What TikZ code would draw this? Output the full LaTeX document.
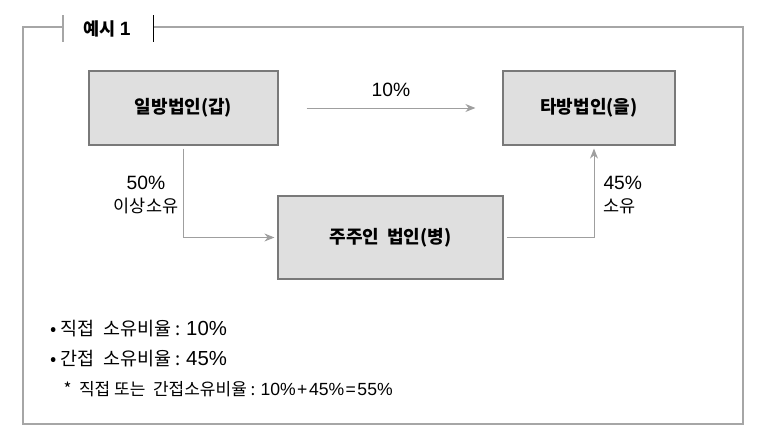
\documentclass[tikz,border=0pt]{standalone}
\usepackage{fontspec}
\setmainfont{Noto Sans CJK KR}
\newfontfamily\numfont[Scale=1.1]{Liberation Sans}
\usetikzlibrary{positioning}
\usetikzlibrary{arrows.meta}

\begin{document}
\begin{tikzpicture}[x=1pt, y=-1pt,
    corp/.style={shape=rectangle, draw=gray!95!black, fill=gray!25, line width=1.2pt, font=\fontsize{18}{20}\selectfont\bfseries},
    link/.style={draw=gray!75, line width=1pt, -{Stealth[length=10pt,width=8pt]}},
    pct/.style={font=\fontsize{17.5}{23}\selectfont},
    note/.style={anchor=west, font=\fontsize{18.5}{20}\selectfont}]
      \useasboundingbox (0,0) rectangle (769,447);
      % frame with tab
      \draw[gray!70, line width=2.2pt] (63,27) -- (23,27) -- (23,424) -- (743,424) -- (743,27) -- (153,27);
      \draw[gray!70, line width=1.2pt] (63,15) -- (63,42);
      \draw[black, line width=1pt] (153,15) -- (153,42);
      \node[font=\fontsize{17.5}{20}\selectfont\bfseries] (title) at (107,29) {예시 {\numfont 1}};

      \node[corp, minimum width=189pt, minimum height=74pt] (gap) at (183.5,108) {일방법인(갑)};
      \node[corp, minimum width=172pt, minimum height=74pt] (eul) at (589,108) {타방법인(을)};
      \node[corp, minimum width=225pt, minimum height=83pt] (byeong) at (390.5,237.5) {주주인\ \ 법인(병)};

      \draw[link, shorten <=28pt, shorten >=27pt] (gap.east) -- (eul.west);
      \draw[link, shorten <=3pt, shorten >=3pt] (gap.south) |- (byeong.west);
      \draw[link, shorten <=3pt, shorten >=3pt] (byeong.east) -| ([xshift=5pt]eul.south);

      \node[pct] (direct) at (391,90) {\numfont 10\%};
      \node[pct, align=center] (over) at (146,195) {{\numfont 50\%}\\이상소유};
      \node[pct, anchor=west, align=left] (own) at (600,195) {{\numfont 45\%}\\소유};

      % ratios
      \node[note] (line1) at (47,329) {• 직접\ \ 소유비율 : {\numfont 10\%}};
      \node[note] (line2) at (47,359) {• 간접\ \ 소유비율 : {\numfont 45\%}};
      \node[note, font=\fontsize{17}{18}\selectfont] (line3) at (60,389) {*\ \ 직접\ 또는\ \ 간접소유비율 : {\numfont\fontsize{16}{18}\selectfont 10\%\kern1.5pt+\kern1.5pt45\%\kern1.5pt=\kern1.5pt55\%}};
    \end{tikzpicture}
\end{document}
